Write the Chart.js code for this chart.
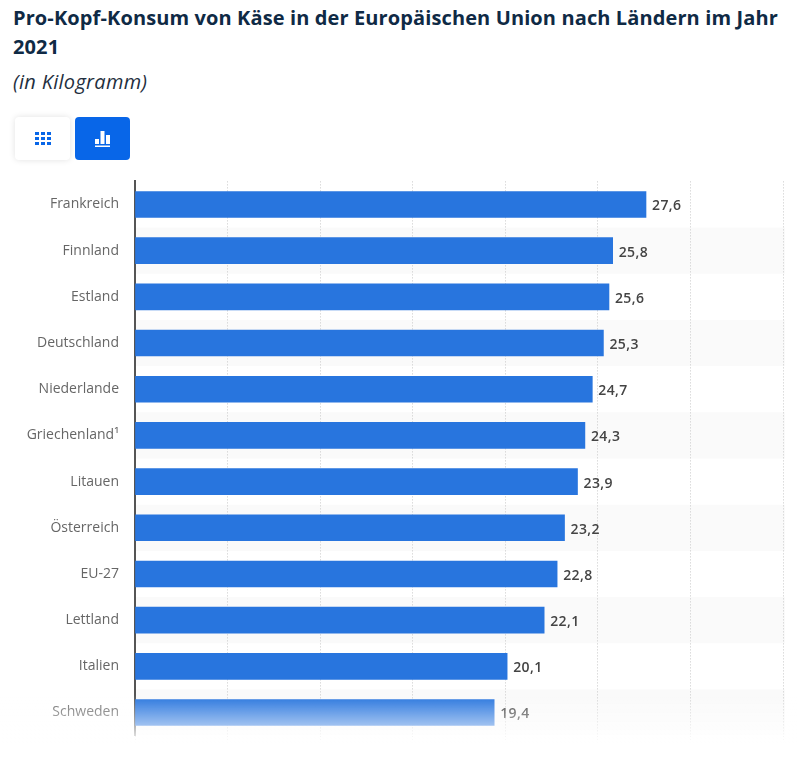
<!DOCTYPE html>
<html lang="de">
<head>
<meta charset="utf-8">
<title>Pro-Kopf-Konsum von Käse</title>
<script src="https://cdn.jsdelivr.net/npm/chart.js@4/dist/chart.umd.min.js"></script>
<style>
  html, body { margin: 0; padding: 0; background: #fff; }
  body { width: 797px; height: 757px; position: relative; overflow: hidden; font-family: "Open Sans", sans-serif; }
  h1 { position: absolute; left: 13px; top: 3px; width: 780px; margin: 0; font-size: 20px; line-height: 29px; font-weight: 700; letter-spacing: .115px; color: #0f2a45; }
  h2 { position: absolute; left: 13px; top: 67px; margin: 0; font-size: 20px; line-height: 29px; font-weight: 400; font-style: italic; letter-spacing: .3px; color: #1f2f40; }
  .btn { position: absolute; top: 117px; width: 55px; height: 43px; border-radius: 4px; display: flex; align-items: center; justify-content: center; }
  .btn-table { left: 15px; background: #fff; box-shadow: 0 0 6px rgba(0,0,0,.12); }
  .btn-chart { left: 75px; background: #0866e8; }
  #myChart { position: absolute; left: 0; top: 157px; }
  #fade { position: absolute; left: 0; top: 695px; width: 797px; height: 50px; background: linear-gradient(to bottom, rgba(255,255,255,0) 0%, rgba(255,255,255,.55) 60%, rgba(255,255,255,1) 100%); }
</style>
</head>
<body>
<h1>Pro-Kopf-Konsum von Käse in der Europäischen Union nach Ländern im Jahr 2021</h1>
<h2>(in Kilogramm)</h2>
<div class="btn btn-table">
  <svg width="16" height="13" viewBox="0 0 16 13" fill="#0866e8">
    <path d="M0 0h4v3H0zM6 0h4v3H6zM12 0h4v3h-4zM0 5h4v3H0zM6 5h4v3H6zM12 5h4v3h-4zM0 10h4v3H0zM6 10h4v3H6zM12 10h4v3h-4z"/>
  </svg>
</div>
<div class="btn btn-chart">
  <svg width="15" height="16" viewBox="0 0 15 16" fill="#fff">
    <path d="M0 8h4v5H0zM5.5 0h4v13h-4zM11 4h4v9h-4zM0 14.5h15V16H0z"/>
  </svg>
</div>
<canvas id="myChart" width="797" height="603"></canvas>
<div id="fade"></div>
<script>
const categories = ['Frankreich', 'Finnland', 'Estland', 'Deutschland', 'Niederlande', 'Griechenland¹', 'Litauen', 'Österreich', 'EU-27', 'Lettland', 'Italien', 'Schweden'];
const values = [27.6, 25.8, 25.6, 25.3, 24.7, 24.3, 23.9, 23.2, 22.8, 22.1, 20.1, 19.4];

const BAR_COLOR = '#2875de';

// alternating row bands behind everything
const rowBands = {
  id: 'rowBands',
  beforeDraw(chart) {
    const { ctx, chartArea, scales } = chart;
    const half = (scales.y.getPixelForValue(1) - scales.y.getPixelForValue(0)) / 2;
    ctx.save();
    ctx.fillStyle = '#fafafa';
    categories.forEach((c, i) => {
      if (i % 2 === 0) return;
      const y = scales.y.getPixelForValue(i);
      ctx.fillRect(chartArea.left, y - half, chartArea.width + 2, half * 2);
    });
    ctx.restore();
  }
};

// value labels at the end of the bars
const valueLabels = {
  id: 'valueLabels',
  afterDatasetsDraw(chart) {
    const { ctx } = chart;
    ctx.save();
    ctx.font = '600 14px "Open Sans"';
    ctx.letterSpacing = '0.4px';
    ctx.fillStyle = '#444';
    ctx.textAlign = 'left';
    ctx.textBaseline = 'middle';
    chart.getDatasetMeta(0).data.forEach((bar, i) => {
      ctx.fillText(String(values[i]).replace('.', ','), bar.x + 6, bar.y + 2);
    });
    ctx.restore();
  }
};

new Chart(document.getElementById('myChart'), {
  type: 'bar',
  data: {
    labels: categories,
    datasets: [{
      data: values,
      backgroundColor: BAR_COLOR,
      barThickness: 26
    }]
  },
  options: {
    indexAxis: 'y',
    responsive: false,
    animation: false,
    layout: { padding: { top: 0, right: 14, left: 0, bottom: 0 } },
    plugins: { legend: { display: false }, tooltip: { enabled: false } },
    scales: {
      x: {
        min: 0,
        max: 35,
        ticks: { display: false, stepSize: 5 },
        border: { display: false, dash: [1, 2] },
        grid: {
          color: '#c8c8c8',
          tickColor: '#c8c8c8',
          tickLength: 7,
          lineWidth: 1,
          tickWidth: 1,
          tickBorderDash: [1, 2]
        }
      },
      y: {
        afterFit(scale) { scale.width = 135; },
        ticks: {
          color: '#666',
          padding: 16,
          font: { family: '"Open Sans"', size: 14 }
        },
        border: { display: true, color: '#555', width: 2 },
        grid: { display: false, drawTicks: false }
      }
    }
  },
  plugins: [rowBands, valueLabels]
});
</script>
</body>
</html>
